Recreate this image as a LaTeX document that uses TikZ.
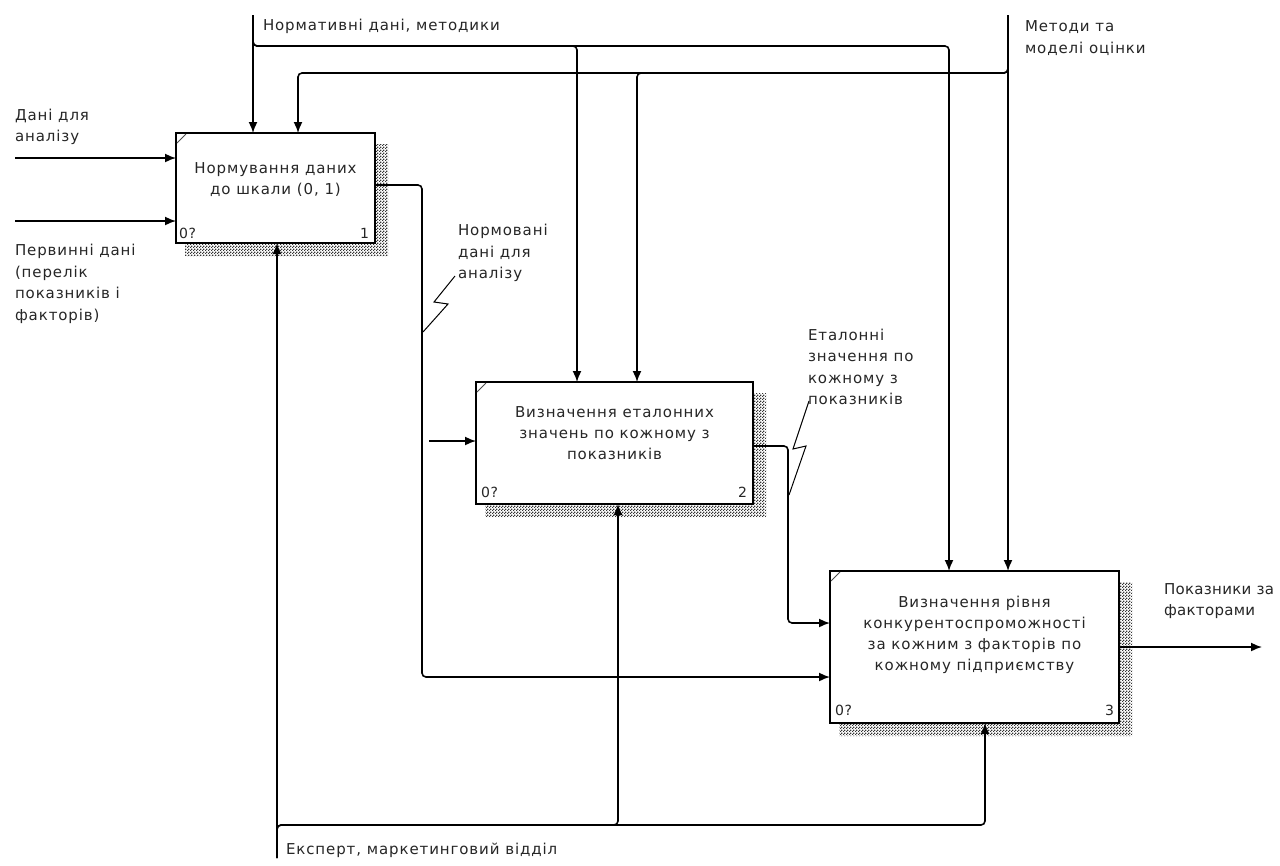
\documentclass[tikz,border=0pt]{standalone}
\usepackage{fontspec}
\newfontfamily\idef[LetterSpace=6]{DejaVu Sans}
\newfontfamily\idefn[LetterSpace=2]{DejaVu Sans}
\usetikzlibrary{calc,patterns,arrows.meta}

% fine checkerboard used for the drop shadows
\pgfdeclarepatternformonly{finechecker}{\pgfpointorigin}{\pgfpoint{2.6pt}{2.6pt}}{\pgfpoint{2.6pt}{2.6pt}}{%
  \pgfpathrectangle{\pgfpointorigin}{\pgfpoint{1.3pt}{1.3pt}}%
  \pgfpathrectangle{\pgfpoint{1.3pt}{1.3pt}}{\pgfpoint{1.3pt}{1.3pt}}%
  \pgfusepath{fill}}

\begin{document}
\begin{tikzpicture}[x=1pt,y=-1pt,
  every node/.style={inner sep=0pt, outer sep=0pt},
  txt/.style={font=\idef\fontsize{15}{21.5}\selectfont, text=black!85, align=left, anchor=west},
  boxtxt/.style={font=\idef\fontsize{15}{21}\selectfont, text=black!85, align=center},
  num/.style={font=\idef\fontsize{14}{16}\selectfont, text=black!85},
  box/.style={draw=black, line width=1.7pt, fill=white, rectangle},
  conn/.style={line width=1.6pt, rounded corners=4pt},
  arr/.style={conn, -{Latex[length=11pt,width=9pt]}},
  sq/.style={line width=1pt},
  tick/.style={line width=0.8pt, black!70},
  hatch/.style={pattern=finechecker, pattern color=black!80}
]
% canvas
\useasboundingbox[fill=white] (0,0) rectangle (1280,865);

% activity boxes
\node[box, minimum width=199pt, minimum height=110pt] (b1) at (275.5,188) {};
\node[box, minimum width=277pt, minimum height=122pt] (b2) at (614.5,443) {};
\node[box, minimum width=289pt, minimum height=152pt] (b3) at (974.5,647) {};

% hatched drop shadows and corner marks
\foreach \b in {b1,b2,b3}{
  \fill[hatch] ($(\b.north east)+(1,11)$) -- ($(\b.north east)+(13,11)$)
    -- ($(\b.south east)+(13,13)$) -- ($(\b.south west)+(9,13)$)
    -- ($(\b.south west)+(9,1)$) -- ($(\b.south east)+(1,1)$) -- cycle;
  \draw[tick] ($(\b.north west)+(1,10)$) -- ($(\b.north west)+(10,1)$);
}

% box captions
\node[boxtxt, yshift=8pt] (t1) at (b1.center) {Нормування даних\\до шкали (0, 1)};
\node[boxtxt, yshift=9.5pt] (t2) at (b2.center) {Визначення еталонних\\значень по кожному з\\показників};
\node[boxtxt, yshift=12pt] (t3) at (b3.center) {Визначення рівня\\конкурентоспроможності\\за кожним з факторів по\\кожному підприємству};

% corner numbers
\node[num, anchor=base west] (n1a) at ($(b1.south west)+(3,-5)$) {0?};
\node[num, anchor=base east] (n1b) at ($(b1.south east)+(-6,-5)$) {1};
\node[num, anchor=base west] (n2a) at ($(b2.south west)+(5,-7)$) {0?};
\node[num, anchor=base east] (n2b) at ($(b2.south east)+(-6,-7)$) {2};
\node[num, anchor=base west] (n3a) at ($(b3.south west)+(5,-8)$) {0?};
\node[num, anchor=base east] (n3b) at ($(b3.south east)+(-5,-8)$) {3};

% inputs
\coordinate (i1) at (15,158);
\coordinate (i2) at (15,221);
\draw[arr] (i1) -- (i1 -| b1.west);
\draw[arr] (i2) -- (i2 -| b1.west);

% control: normative data
\coordinate (c1) at (253,15);
\coordinate (c1j) at (253,46);
\coordinate (c1a) at (577,46);
\coordinate (c1b) at (949,46);
\draw[arr] (c1) -- (c1 |- b1.north);
\draw[arr] (c1) -- (c1j) -- (c1a) -- (c1a |- b2.north);
\draw[arr] (c1) -- (c1j) -- (c1b) -- (c1b |- b3.north);

% control: methods and models
\coordinate (c2) at (1008,15);
\coordinate (c2j) at (1008,73);
\coordinate (c2a) at (637,73);
\coordinate (c2b) at (298,73);
\draw[arr] (c2) -- (c2 |- b3.north);
\draw[arr] (c2) -- (c2j) -- (c2a) -- (c2a |- b2.north);
\draw[arr] (c2) -- (c2j) -- (c2b) -- (c2b |- b1.north);

% output of box 1
\coordinate (o1y) at (0,185);
\coordinate (o1x) at (422,0);
\coordinate (y677) at (0,677);
\coordinate (o1j) at (429,441);
\draw[arr] (b1.east |- o1y) -- (o1x |- o1y) -- (o1x |- y677) -- (b3.west |- y677);
\draw[arr] (o1j) -- (o1j -| b2.west);

% output of box 2
\coordinate (o2y) at (0,446);
\coordinate (o2x) at (788,0);
\coordinate (y623) at (0,623);
\draw[arr] (b2.east |- o2y) -- (o2x |- o2y) -- (o2x |- y623) -- (b3.west |- y623);

% output of box 3
\coordinate (out) at (1262,647);
\draw[arr] (b3.east) -- (out);

% mechanism
\coordinate (m) at (277,858);
\coordinate (mj) at (277,825);
\coordinate (ma) at (618,825);
\coordinate (mb) at (985,825);
\draw[arr] (m) -- (m |- b1.south);
\draw[arr] (m) -- (mj) -- (ma) -- (ma |- b2.south);
\draw[arr] (m) -- (mj) -- (mb) -- (mb |- b3.south);

% squiggles tying labels to arrows
\draw[sq] (423,332) -- (448,304) -- (434,302) -- (455,276);
\draw[sq] (789,495) -- (806,446) -- (793,449) -- (809,401);

% arrow labels
\node[txt] (l1) at (15,127) {Дані для\\аналізу};
\node[txt] (l2) at (15,284) {Первинні дані\\(перелік\\показників і\\факторів)};
\node[txt] (l3) at (263,26) {Нормативні дані, методики};
\node[txt] (l4) at (1025,38) {Методи та\\моделі оцінки};
\node[txt] (l5) at (458,253) {Нормовані\\дані для\\аналізу};
\node[txt] (l6) at (808,367) {Еталонні\\значення по\\кожному з\\показників};
\node[txt, font=\idefn\fontsize{15}{21.5}\selectfont] (l7) at (1164,601) {Показники за\\факторами};
\node[txt] (l8) at (286,850) {Експерт, маркетинговий відділ};
\end{tikzpicture}
\end{document}
